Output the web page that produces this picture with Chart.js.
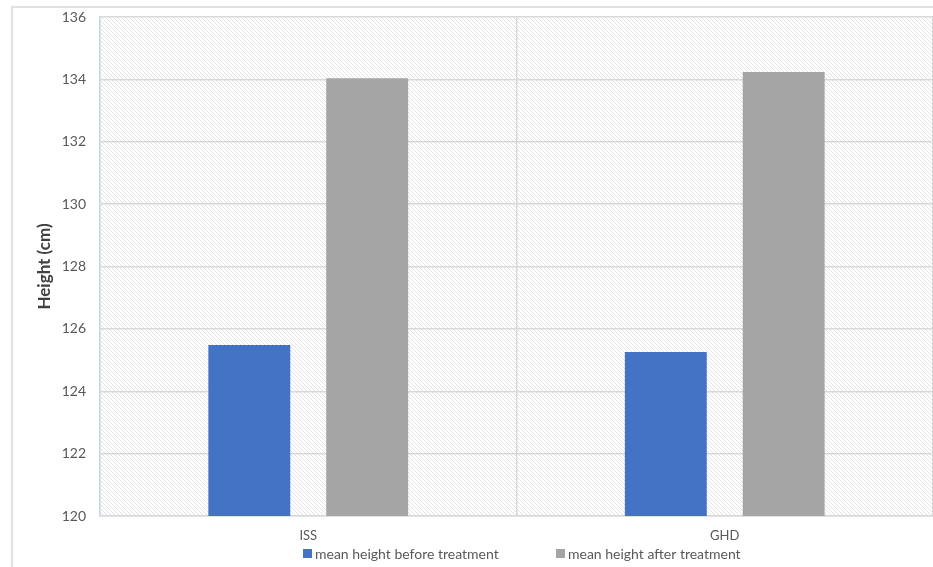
<!DOCTYPE html>
<html>
<head>
<meta charset="utf-8">
<script src="https://cdn.jsdelivr.net/npm/chart.js@4"></script>
<style>
  html, body { margin: 0; padding: 0; background: #fff; }
  #wrap { width: 933px; height: 567px; }
</style>
</head>
<body>
<div id="wrap"><canvas id="heightChart" width="933" height="567"></canvas></div>
<script>
// 數據
const groups = ['ISS', 'GHD'];
const beforeHeight = [125.48, 125.26];
const afterHeight = [134.04, 134.24];
const seriesNames = ['mean height before treatment', 'mean height after treatment'];
const yTicks = [120, 122, 124, 126, 128, 130, 132, 134, 136];

const FONT = 'Lato, "Liberation Sans", sans-serif';

// 斜線底紋
function makeHatch() {
    const c = document.createElement('canvas');
    c.width = 4; c.height = 4;
    const g = c.getContext('2d');
    g.fillStyle = '#ffffff';
    g.fillRect(0, 0, 4, 4);
    g.strokeStyle = '#e4e4e4';
    g.lineWidth = 1;
    g.beginPath();
    g.moveTo(-1, -1); g.lineTo(5, 5);
    g.moveTo(-1, 3); g.lineTo(1, 5);
    g.moveTo(3, -1); g.lineTo(5, 1);
    g.stroke();
    return c;
}

const backdrop = {
    id: 'backdrop',
    beforeDraw(chart) {
        const { ctx, chartArea: a } = chart;
        ctx.save();
        ctx.fillStyle = ctx.createPattern(makeHatch(), 'repeat');
        ctx.fillRect(a.left, a.top, a.right - a.left, a.bottom - a.top);
        // 外框
        ctx.strokeStyle = '#d9d9d9';
        ctx.lineWidth = 1.5;
        ctx.beginPath();
        ctx.moveTo(12, chart.height);
        ctx.lineTo(12, 7);
        ctx.lineTo(chart.width, 7);
        ctx.stroke();
        ctx.restore();
    },
    afterDraw(chart) {
        // 自製圖例
        const { ctx } = chart;
        const xs = [303, 556];
        ctx.save();
        ctx.font = '14px ' + FONT;
        ctx.textBaseline = 'middle';
        chart.data.datasets.forEach((ds, i) => {
            ctx.fillStyle = ds.backgroundColor;
            ctx.fillRect(xs[i], 549, 9, 9);
            ctx.fillStyle = '#595959';
            ctx.fillText(ds.label, xs[i] + 12, 554);
        });
        ctx.restore();
    }
};

const ctx = document.getElementById('heightChart').getContext('2d');
new Chart(ctx, {
    type: 'bar',
    data: {
        labels: groups,
        datasets: [
            { label: seriesNames[0], data: beforeHeight, backgroundColor: '#4472c4' },
            { label: seriesNames[1], data: afterHeight, backgroundColor: '#a5a5a5' }
        ]
    },
    options: {
        responsive: false,
        animation: false,
        layout: { padding: { left: 34, top: 17, right: 0, bottom: 0 } },
        datasets: { bar: { categoryPercentage: 0.566, barPercentage: 0.695 } },
        plugins: {
            legend: { display: false },
            tooltip: { enabled: false }
        },
        scales: {
            x: {
                grid: { color: '#d9d9d9', lineWidth: 1.5, drawTicks: false, offset: true },
                border: { color: '#d9d9d9', width: 1.5 },
                ticks: { color: '#595959', font: { family: FONT, size: 13 }, padding: 12 },
                afterFit(scale) { scale.height = 51; scale.paddingLeft = 0; scale.paddingRight = 0; }
            },
            y: {
                min: 120,
                max: 136,
                afterBuildTicks(scale) { scale.ticks = yTicks.map(v => ({ value: v })); },
                grid: { color: '#d9d9d9', lineWidth: 1.5, drawTicks: false },
                border: { color: '#c9d6ee', width: 1.5 },
                ticks: { color: '#595959', font: { family: FONT, size: 14 }, padding: 14 },
                title: {
                    display: true,
                    text: 'Height (cm)',
                    color: '#404040',
                    font: { family: FONT, size: 17, weight: 'bold' },
                    padding: { top: 0, bottom: 4 }
                },
                afterFit(scale) { scale.width = 66; scale.paddingTop = 0; scale.paddingBottom = 0; }
            }
        }
    },
    plugins: [backdrop]
});
</script>
</body>
</html>
